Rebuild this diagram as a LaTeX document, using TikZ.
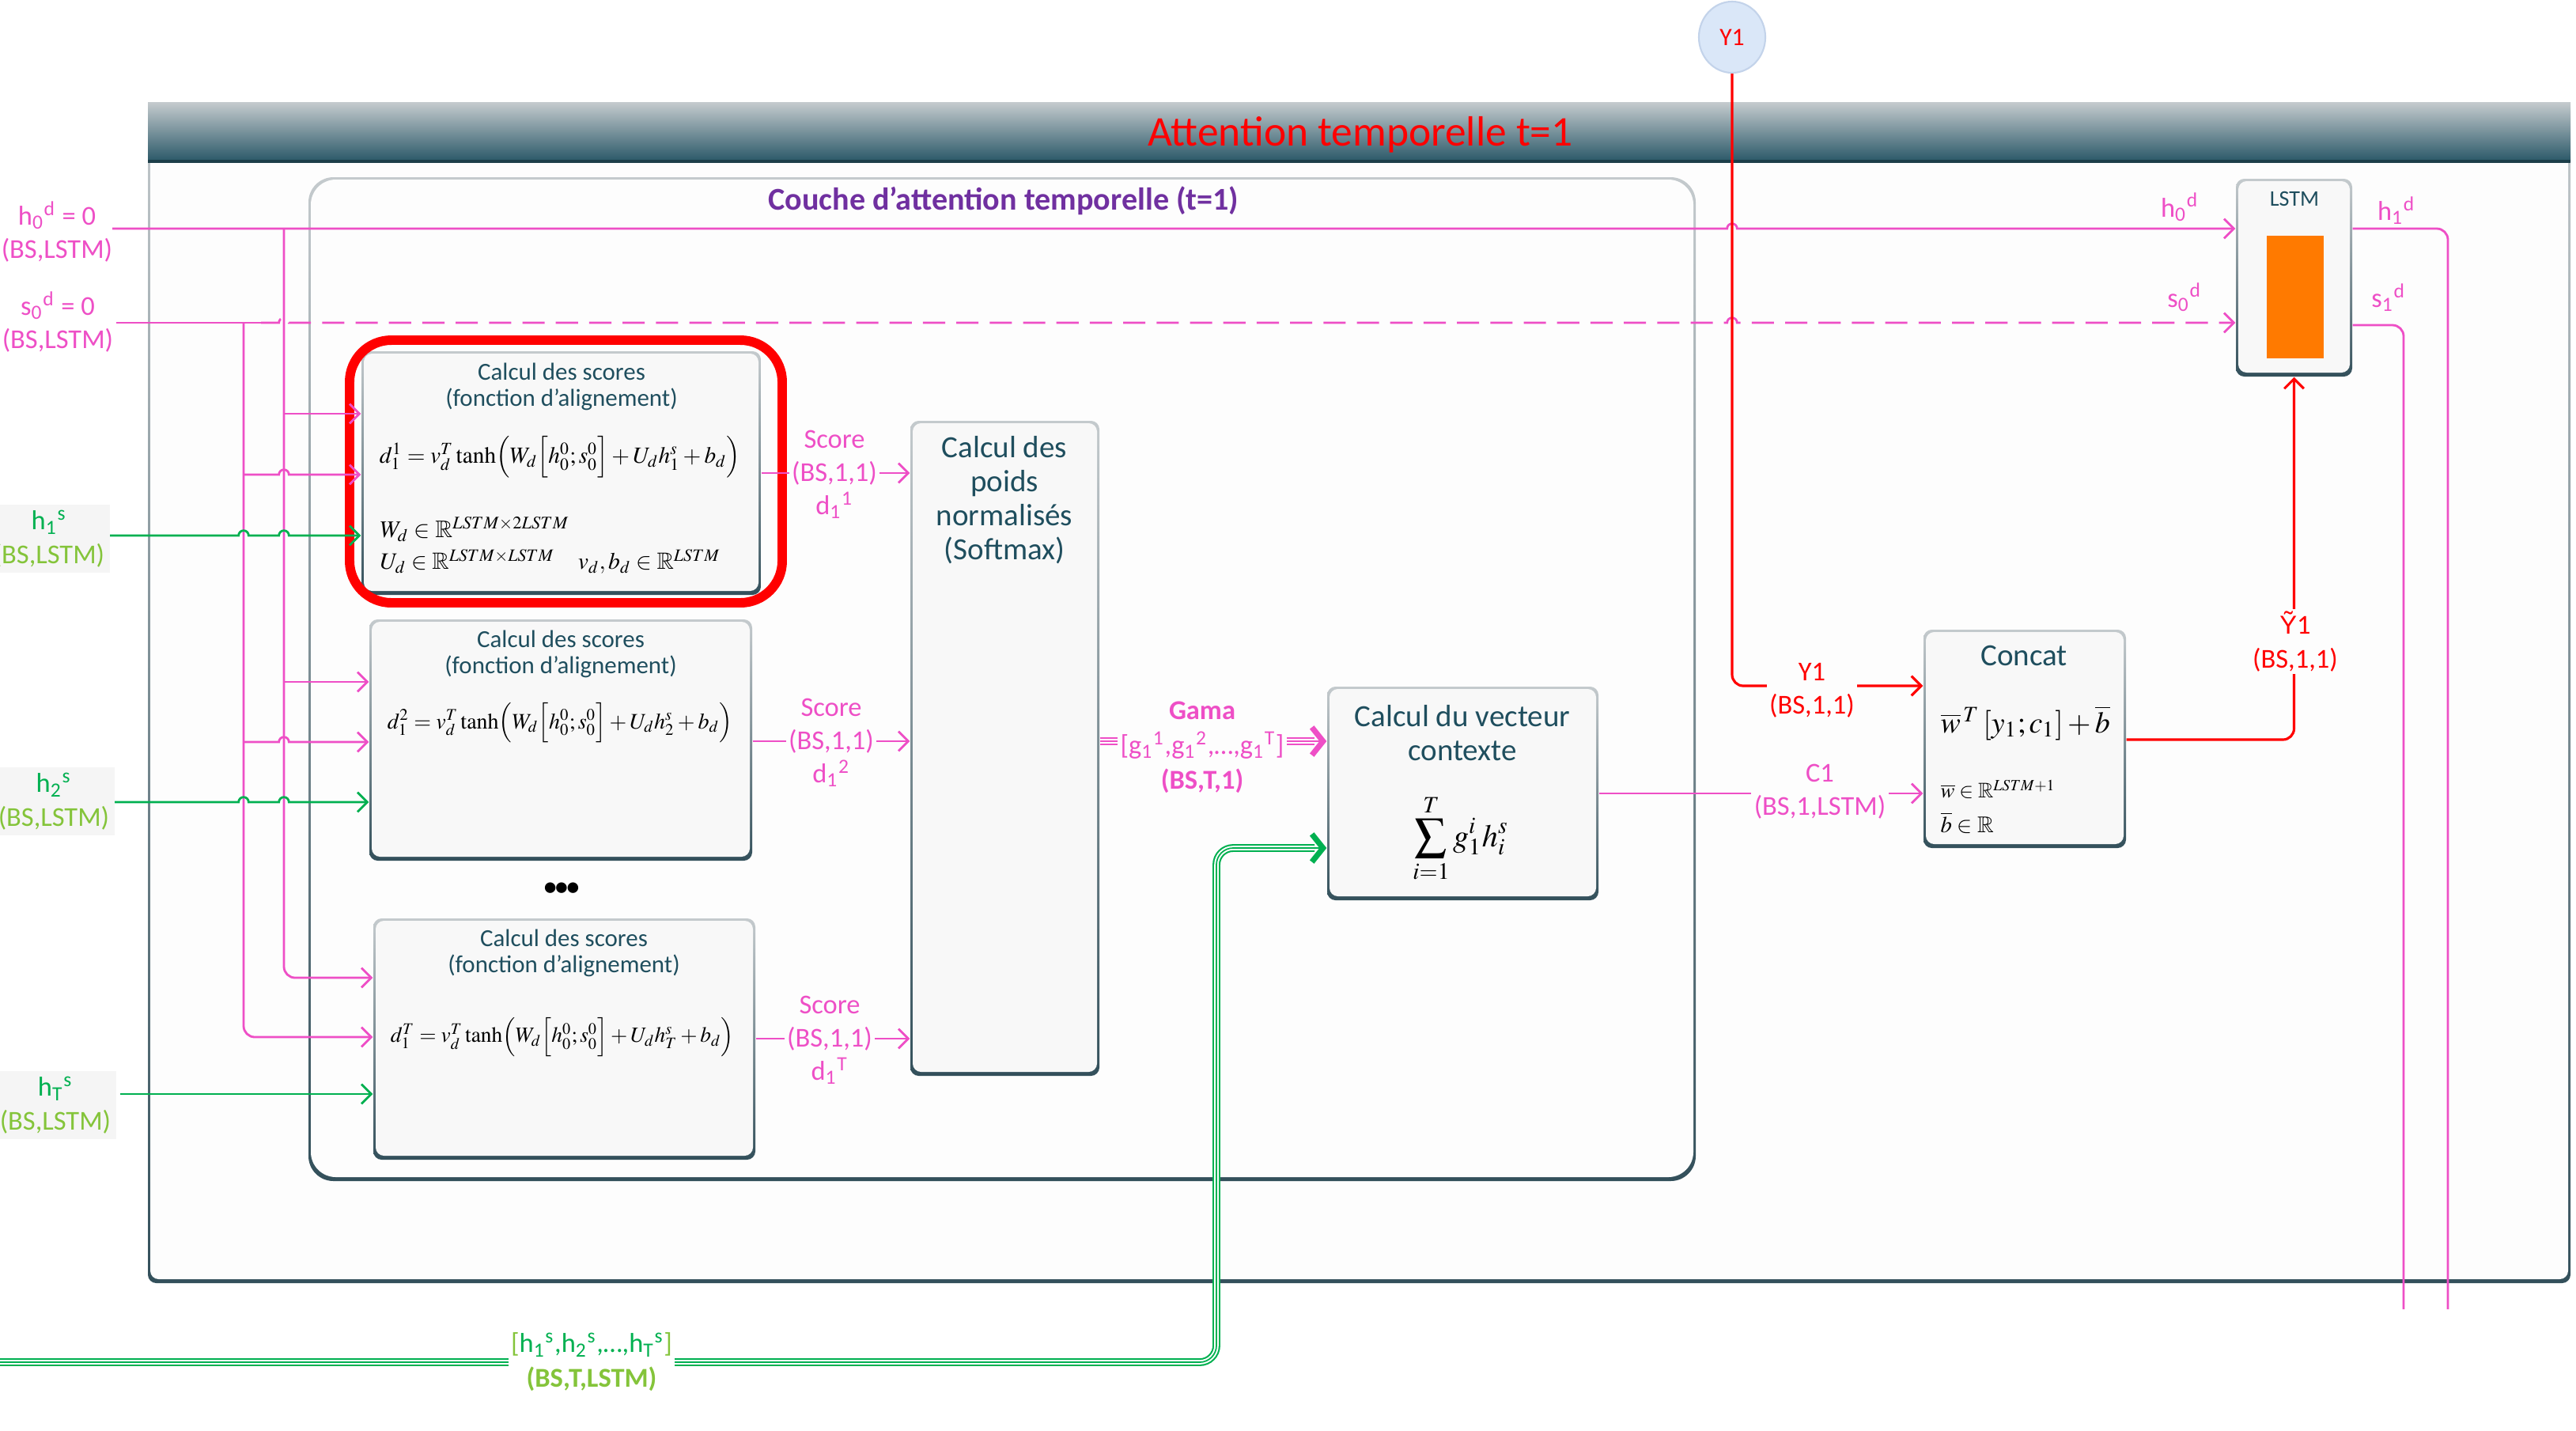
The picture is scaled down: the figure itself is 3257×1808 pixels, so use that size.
\documentclass[tikz,border=0pt]{standalone}
\usepackage{mathptmx}
\usepackage{amssymb}
\usepackage{graphicx}
\usepackage[no-math]{fontspec}
\setmainfont{Carlito}
\newfontfamily\accfont{Liberation Sans}
\usetikzlibrary{arrows.meta,fit,shapes.geometric}

\definecolor{pinkc}{HTML}{EE4FC6}
\definecolor{greenc}{HTML}{00B050}
\definecolor{lgreenc}{HTML}{84C43A}
\definecolor{redc}{HTML}{FF0000}
\definecolor{purplec}{HTML}{7030A0}
\definecolor{tealc}{HTML}{1F4E5E}
\definecolor{orangec}{HTML}{FF7A00}
\definecolor{edgetop}{HTML}{C4CACD}
\definecolor{edgebot}{HTML}{33505B}
\definecolor{bartop}{HTML}{C5CBCE}
\definecolor{barbot}{HTML}{2A5868}
\definecolor{boxface}{HTML}{F8F8F8}
\definecolor{paper}{HTML}{FDFDFD}
\definecolor{ycirc}{HTML}{DAE7F8}
\definecolor{ycircb}{HTML}{C3D3EA}
\definecolor{tagbg}{HTML}{F5F5F5}

% letter with subscript and superscript
\newcommand\subsup[3]{#1\textsubscript{#2}\textsuperscript{#3}}

% shaded-edge panel: name, x1, y1, x2, y2, corner radius, face colour
\newcommand\mypanel[7]{%
  \path[rounded corners=#6, top color=edgetop, bottom color=edgebot] (#2,#3) rectangle (#4,#5);
  \path[rounded corners=#6, fill=#7] (#2+3,#3+3) rectangle (#4-3,#5-5);
  \coordinate (#1-a) at (#2,#3);
  \coordinate (#1-b) at (#4,#5);
  \node[fit=(#1-a)(#1-b), inner sep=0pt] (#1) {};}

\begin{document}
\begin{tikzpicture}[x=0.01cm, y=-0.01cm,
  pline/.style={draw=pinkc, line width=0.8pt},
  gline/.style={draw=greenc, line width=0.8pt},
  rline/.style={draw=redc, line width=0.9pt},
  tip/.style={-{Straight Barb[length=3.5pt,width=7pt]}},
  lbl/.style={fill=paper, inner sep=1pt, align=center, font=\fontsize{9.8}{12}\selectfont},
  tag/.style={fill=tagbg, inner sep=2pt, align=center, font=\fontsize{9.8}{12}\selectfont},
  boxtext/.style={text=tealc, align=center, font=\fontsize{8.8}{9.5}\selectfont},
  bigtext/.style={text=tealc, align=center, font=\fontsize{11.1}{12.2}\selectfont},
  triple/.style={draw=#1, double=white, double distance=1.6pt, line width=0.6pt,
    postaction={draw=#1, line width=0.5pt}}]

\fill[white] (0,0) rectangle (3257,1808);
\useasboundingbox (0,0) rectangle (3257,1808);

% outer frame and its title bar
\mypanel{frame}{187}{129}{3250}{1622}{3pt}{paper}
\path[top color=bartop, bottom color=barbot] (187,129) rectangle (3250,204);
\draw[barbot!70!black, line width=1.2pt] (187,204) -- (3250,204);
\node[text=redc, font=\fontsize{15.2}{17}\selectfont] (title) at (1720,170) {Attention temporelle t=1};

% attention layer
\mypanel{layer}{390}{224}{2144}{1493}{9pt}{paper}
\node[text=purplec, font=\bfseries\fontsize{11.4}{13}\selectfont] (layertitle) at (1269,254) {Couche d’attention temporelle (t=1)};

% score boxes
\mypanel{sc1}{457}{444}{962}{752}{3pt}{boxface}
\mypanel{sc2}{467}{783}{951}{1088}{3pt}{boxface}
\mypanel{sc3}{472}{1161}{955}{1466}{3pt}{boxface}
\mypanel{soft}{1151}{532}{1390}{1360}{3pt}{boxface}
\mypanel{ctx}{1678}{868}{2021}{1138}{3pt}{boxface}
\mypanel{cat}{2432}{796}{2688}{1072}{3pt}{boxface}
\mypanel{lstm}{2827}{226}{2974}{476}{3pt}{boxface}

% highlight ring
\coordinate (ring-a) at (442,430);
\coordinate (ring-b) at (989,762);
\node[draw=redc, line width=3.4pt, rounded corners=15pt, fit=(ring-a)(ring-b), inner sep=0pt] (ring) {};

% box contents
\node[boxtext] (sc1t) at (710,489) {Calcul des scores\\(fonction d’alignement)};
\node (sc1f) at (708,578) {\resizebox{4.56cm}{!}{$d_1^1=v_d^T\tanh\Bigl(W_d\Bigl[h_0^0;s_0^0\Bigr]+U_dh_1^s+b_d\Bigr)$}};
\node[anchor=west, inner sep=0pt] (sc1w) at (480,669) {\resizebox{2.39cm}{!}{$W_d\in\mathbb{R}^{LSTM\times2LSTM}$}};
\node[anchor=west, inner sep=0pt] (sc1u) at (480,710) {\resizebox{4.30cm}{!}{$U_d\in\mathbb{R}^{LSTM\times LSTM}\quad v_d,b_d\in\mathbb{R}^{LSTM}$}};

\node[boxtext] (sc2t) at (709,827) {Calcul des scores\\(fonction d’alignement)};
\node (sc2f) at (708,914) {\resizebox{4.36cm}{!}{$d_1^2=v_d^T\tanh\Bigl(W_d\Bigl[h_0^0;s_0^0\Bigr]+U_dh_2^s+b_d\Bigr)$}};

\node[text=black, font=\bfseries\fontsize{9}{9}\selectfont] (dots) at (710,1124) {\textbullet\kern-0.4pt\textbullet\kern-0.4pt\textbullet};

\node[boxtext] (sc3t) at (713,1205) {Calcul des scores\\(fonction d’alignement)};
\node (sc3f) at (711,1311) {\resizebox{4.34cm}{!}{$d_1^T=v_d^T\tanh\Bigl(W_d\Bigl[h_0^0;s_0^0\Bigr]+U_dh_T^s+b_d\Bigr)$}};

\node[bigtext] (softt) at (1270,632) {Calcul des\\poids\\normalisés\\(Softmax)};

\node[bigtext] (ctxt) at (1849,927) {Calcul du vecteur\\contexte};
\node (ctxf) at (1847,1060) {\resizebox{1.21cm}{!}{$\displaystyle\sum_{i=1}^{T} g_1^i h_i^s$}};

\node[bigtext] (catt) at (2559,829) {Concat};
\node[anchor=west, inner sep=0pt] (catf) at (2453,914) {\resizebox{2.14cm}{!}{$\overline{w}^{\,T}\left[y_1;c_1\right]+\overline{b}$}};
\node[anchor=west, inner sep=0pt] (catw) at (2453,998) {\resizebox{1.45cm}{!}{$\overline{w}\in\mathbb{R}^{LSTM+1}$}};
\node[anchor=west, inner sep=0pt] (catb) at (2453,1040) {\resizebox{0.67cm}{!}{$\overline{b}\in\mathbb{R}$}};

\node[text=tealc, font=\fontsize{8}{9}\selectfont] (lstmt) at (2901,251) {LSTM};
\fill[orangec] (2866,298) rectangle (2938,453);

% decoder output token
\node[ellipse, fill=ycirc, draw=ycircb, line width=0.6pt, minimum width=0.84cm, minimum height=0.9cm, inner sep=0pt,
  text=redc, font=\fontsize{9}{10}\selectfont] (y1) at (2190,47) {Y1};

% start points of the incoming states
\coordinate (h0s) at (142,289);
\coordinate (s0s) at (147,408);
\coordinate (vh) at (359,289);
\coordinate (vs) at (308,408);

% previous hidden state
\draw[pline, tip] (h0s) -- (2183.65,289) arc[start angle=180,end angle=0,radius=1.8pt] -- (lstm.west |- 0,289);
% previous cell state
\draw[pline] (s0s) -- (330,408);
\draw[pline, tip, dash pattern=on 8pt off 4pt] (330,408) -- (352.65,408) arc[start angle=180,end angle=0,radius=1.8pt]
  -- (2183.65,408) arc[start angle=180,end angle=0,radius=1.8pt] -- (lstm.west |- 0,408);

% distribution of h0 to the score boxes
\draw[pline, tip] (359,523) -- (sc1.west |- 0,523);
\draw[pline, tip] (359,862) -- (sc2.west |- 0,862);
\draw[pline, tip, rounded corners=4pt] (vh) -- (359,1236) -- (sc3.west |- 0,1236);
% distribution of s0 to the score boxes
\draw[pline, tip] (308,600) -- (352.65,600) arc[start angle=180,end angle=0,radius=1.8pt] -- (sc1.west |- 0,600);
\draw[pline, tip] (308,938) -- (352.65,938) arc[start angle=180,end angle=0,radius=1.8pt] -- (sc2.west |- 0,938);
\draw[pline, tip, rounded corners=4pt] (vs) -- (308,1311) -- (sc3.west |- 0,1311);

% encoder states
\draw[gline, tip] (133,677) -- (301.65,677) arc[start angle=180,end angle=0,radius=1.8pt]
  -- (352.65,677) arc[start angle=180,end angle=0,radius=1.8pt] -- (sc1.west |- 0,677);
\draw[gline, tip] (142,1014) -- (301.65,1014) arc[start angle=180,end angle=0,radius=1.8pt]
  -- (352.65,1014) arc[start angle=180,end angle=0,radius=1.8pt] -- (sc2.west |- 0,1014);
\draw[gline, tip] (152,1383) -- (sc3.west |- 0,1383);

% scores to softmax
\draw[pline, tip] (sc1.east |- 0,598) -- (soft.west |- 0,598);
\draw[pline, tip] (sc2.east |- 0,937) -- (soft.west |- 0,937);
\draw[pline, tip] (sc3.east |- 0,1313) -- (soft.west |- 0,1313);

% attention weights to the context vector
\draw[triple=pinkc] (soft.east |- 0,937) -- (1662,937);
\draw[pinkc, line width=0.8pt, -{Straight Barb[length=4pt,width=10pt,line width=2pt]}] (1650,937) -- (ctx.west |- 0,937);

% all encoder states to the context vector
\draw[triple=greenc, rounded corners=6pt] (0,1722) -- (1538,1722) -- (1538,1072) -- (1662,1072);
\draw[greenc, line width=0.8pt, -{Straight Barb[length=4pt,width=10pt,line width=2pt]}] (1650,1072) -- (ctx.west |- 0,1072);

% context vector to concat
\draw[pline, tip] (ctx.east |- 0,1003) -- (cat.west |- 0,1003);
% previous output to concat
\draw[rline, tip, rounded corners=4pt] (y1.south) -- (2190,867) -- (cat.west |- 0,867);
% concat to LSTM
\draw[rline, tip, rounded corners=4pt] (cat.east |- 0,935) -- (2900.5,935) -- (lstm.south);
% LSTM outputs
\draw[pline, rounded corners=4pt] (lstm.east |- 0,289) -- (3095,289) -- (3095,1655);
\draw[pline, rounded corners=4pt] (lstm.east |- 0,411) -- (3039,411) -- (3039,1655);

% labels on the connectors
\node[lbl, text=pinkc] (sc1o) at (1055,600) {Score\\(BS,1,1)\\\subsup{d}{1}{1}};
\node[lbl, text=pinkc] (sc2o) at (1051,939) {Score\\(BS,1,1)\\\subsup{d}{1}{2}};
\node[lbl, text=pinkc] (sc3o) at (1049,1315) {Score\\(BS,1,1)\\\subsup{d}{1}{T}};
\node[lbl, text=pinkc, font=\fontsize{9.8}{12.5}\selectfont] (gama) at (1520,945)
  {\textbf{Gama}\\{}{[}\subsup{g}{1}{1},\subsup{g}{1}{2},…,\subsup{g}{1}{T}{]}\\\textbf{(BS,T,1)}};
\node[lbl, fill=white, text=greenc, font=\fontsize{9.8}{12.5}\selectfont] (hall) at (748,1722)
  {\textcolor{lgreenc}{[}\subsup{h}{1}{s},\subsup{h}{2}{s},…,\subsup{h}{T}{s}\textcolor{lgreenc}{]}\\\textcolor{lgreenc}{\textbf{(BS,T,LSTM)}}};
\node[lbl, text=pinkc] (c1) at (2301,1001) {C1\\(BS,1,LSTM)};
\node[lbl, text=redc] (y1l) at (2291,873) {Y1\\(BS,1,1)};
\node[lbl, text=redc] (yt) at (2902,811) {{\accfont\fontsize{9.3}{12}\selectfont Ỹ}1\\(BS,1,1)};

% state labels next to the LSTM cell
\node[text=pinkc, font=\fontsize{9.8}{12}\selectfont] (h0d) at (2756,262) {\subsup{h}{0}{d}};
\node[text=pinkc, font=\fontsize{9.8}{12}\selectfont] (s0d) at (2762,376) {\subsup{s}{0}{d}};
\node[text=pinkc, font=\fontsize{9.8}{12}\selectfont] (h1d) at (3030,266) {\subsup{h}{1}{d}};
\node[text=pinkc, font=\fontsize{9.8}{12}\selectfont] (s1d) at (3020,376) {\subsup{s}{1}{d}};

% incoming labels on the left
\node[align=center, text=pinkc, font=\fontsize{9.8}{12}\selectfont] (h0lab) at (72,293) {\subsup{h}{0}{d} = 0\\(BS,LSTM)};
\node[align=center, text=pinkc, font=\fontsize{9.8}{12}\selectfont] (s0lab) at (73,407) {\subsup{s}{0}{d} = 0\\(BS,LSTM)};
\node[tag, text=greenc] (h1lab) at (62,681) {\subsup{h}{1}{s}\\\textcolor{lgreenc}{(BS,LSTM)}};
\node[tag, text=greenc] (h2lab) at (68,1013) {\subsup{h}{2}{s}\\\textcolor{lgreenc}{(BS,LSTM)}};
\node[tag, text=greenc] (hTlab) at (70,1397) {\subsup{h}{T}{s}\\\textcolor{lgreenc}{(BS,LSTM)}};

\end{tikzpicture}
\end{document}
